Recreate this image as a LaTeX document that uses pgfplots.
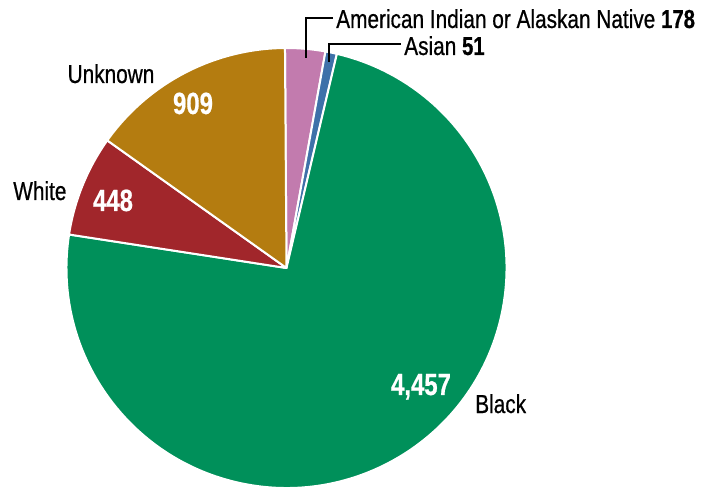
\documentclass[border=0pt]{standalone}
\usepackage{pgfplots}
\pgfplotsset{compat=1.18}
\usepackage{fontspec}
\setmainfont{Liberation Sans}[FakeStretch=0.8]
\newfontfamily\labfont{Liberation Sans}[FakeStretch=0.8, FakeBold=0.6]
\newfontfamily\numfont{Liberation Sans Bold}[FakeStretch=0.78, FakeBold=0.6]

\definecolor{cPink}{HTML}{C27BAE}
\definecolor{cBlue}{HTML}{3E71A9}
\definecolor{cGreen}{HTML}{00905A}
\definecolor{cRed}{HTML}{A1262B}
\definecolor{cGold}{HTML}{B47C10}

% slice: cumulative start count, count, colour (total 6043, clockwise from top)
\newcommand\slice[3]{%
  \fill[#3, draw=white, line width=1.5pt, line join=round]
    (axis cs:286.5,218) -- ++({90.4-#1/6043*360}:165pt)
    arc[start angle={90.4-#1/6043*360}, end angle={90.4-(#1+#2)/6043*360}, radius=165pt]
    -- cycle;}

\begin{document}
\begin{tikzpicture}
\begin{axis}[
    name=ax,
    x=0.75pt, y=0.75pt,
    xmin=0, xmax=718, ymin=0, ymax=486,
    hide axis, clip=true,
]
\slice{0}{178}{cPink}
\slice{178}{51}{cBlue}
\slice{229}{4457}{cGreen}
\slice{4686}{448}{cRed}
\slice{5134}{909}{cGold}

% leader lines
\draw[black, line width=0.9pt] (axis cs:306,428) |- (axis cs:333,468);
\draw[black, line width=0.9pt] (axis cs:329,424) |- (axis cs:401,442);

\begin{scope}[font=\fontsize{19.5}{20}\selectfont\labfont]
\node[anchor=base west, inner sep=0pt] at (axis cs:336,458) {American Indian or Alaskan Native {\numfont 178}};
\node[anchor=base west, inner sep=0pt] at (axis cs:404,431) {Asian {\numfont 51}};
\node[anchor=base, inner sep=0pt] at (axis cs:111,403) {Unknown};
\node[anchor=base west, inner sep=0pt] at (axis cs:13,286) {White};
\node[anchor=base west, inner sep=0pt] at (axis cs:475,73) {Black};
\end{scope}
\begin{scope}[font=\fontsize{23}{24}\selectfont\numfont, text=white]
\node[anchor=base, inner sep=0pt] at (axis cs:193,372) {909};
\node[anchor=base, inner sep=0pt] at (axis cs:113,275) {448};
\node[anchor=base, inner sep=0pt] at (axis cs:421,91) {4,457};
\end{scope}
\end{axis}
\pgfresetboundingbox
\useasboundingbox (ax.south west) rectangle (ax.north east);
\end{tikzpicture}
\end{document}
